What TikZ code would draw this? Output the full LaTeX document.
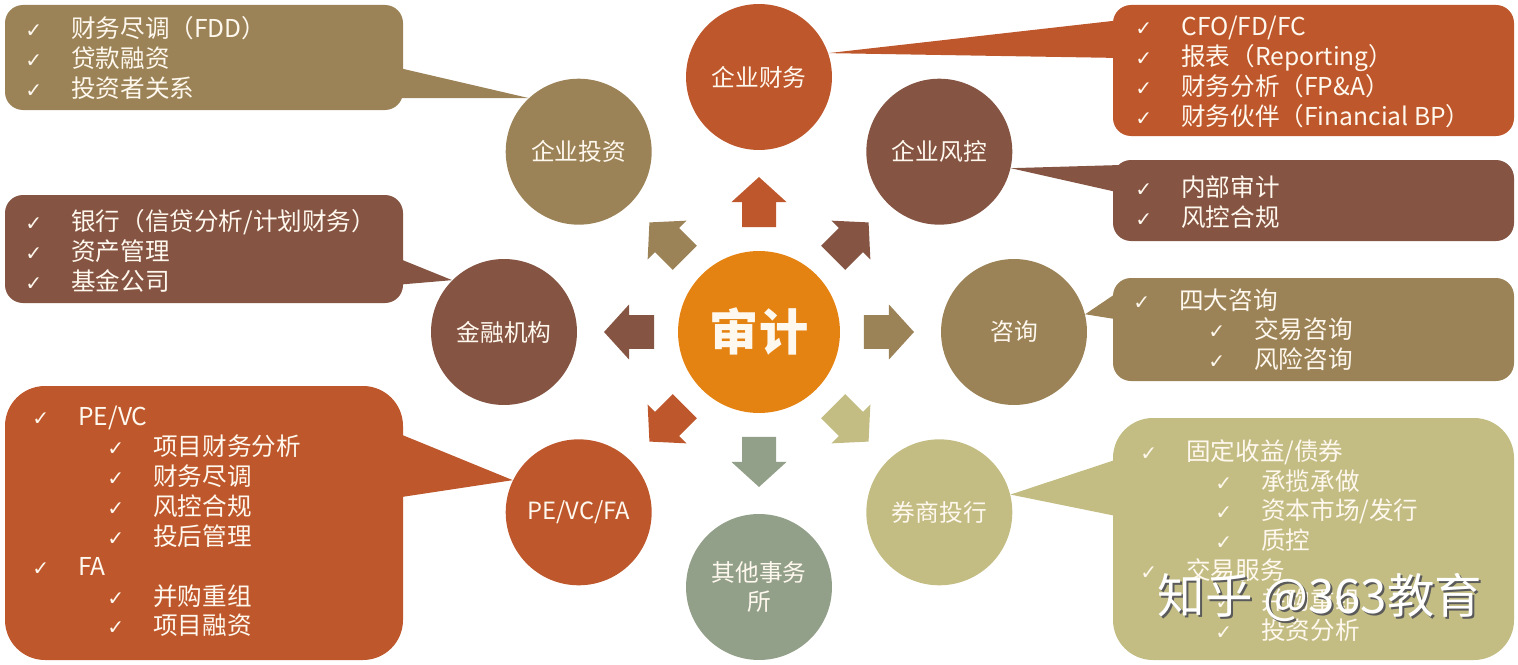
\documentclass[tikz,border=0pt]{standalone}
\usepackage{fontspec}
\setmainfont{Noto Sans CJK SC}
\newfontfamily\symfont{DejaVu Sans}
\usetikzlibrary{calc}
\definecolor{cOrange}{RGB}{229,131,18}
\definecolor{cRust}{RGB}{190,88,44}
\definecolor{cBrown}{RGB}{133,84,66}
\definecolor{cTan}{RGB}{156,131,87}
\definecolor{cKhaki}{RGB}{195,189,132}
\definecolor{cSage}{RGB}{147,160,137}
\definecolor{cText}{RGB}{255,248,238}
\definecolor{cShade}{RGB}{90,90,90}
\tikzset{
  hub/.style={circle, fill=cOrange, minimum size=3.24cm, inner sep=0pt,
    text=cText, font=\fontsize{28}{30}\selectfont\bfseries},
  sat/.style={circle, minimum size=2.92cm, inner sep=0pt, text=cText,
    align=center, font=\fontsize{13.5}{17}\selectfont},
  smallbox/.style={rounded corners=0.36cm},
  bigbox/.style={rounded corners=0.8cm},
  itemtxt/.style={anchor=north west, inner sep=0pt, text=cText, align=left,
    font=\fontsize{14}{17}\selectfont},
  wmark/.style={inner sep=0pt, font=\fontsize{27}{30}\selectfont},
}
\newcommand{\chk}{\makebox[0.92cm][l]{\symfont\bfseries\fontsize{11.5}{11.5}\selectfont ✓}}
\newcommand{\subchk}{\hspace*{1.5cm}\chk}
\newcommand{\blkarrow}[2]{%
  \fill[#2, shift={(aud)}, rotate=#1] (2.1cm,-0.34cm) -- (2.6cm,-0.34cm)
    -- (2.6cm,-0.55cm) -- (3.1cm,0cm) -- (2.6cm,0.55cm) -- (2.6cm,0.34cm)
    -- (2.1cm,0.34cm) -- cycle;
}
\begin{document}
\begin{tikzpicture}[x=0.02cm, y=0.02cm]
  \useasboundingbox (0,0) rectangle (1518,664);
  % --- hub and the eight satellites ---
  \node[hub] (aud) at (759,332) {审计};
  \node[sat, fill=cRust]  (fin)   at ($(aud)+(90:255)$)   {企业财务};
  \node[sat, fill=cBrown] (risk)  at ($(aud)+(45:255)$)   {企业风控};
  \node[sat, fill=cTan]   (cons)  at ($(aud)+(0:255)$)    {咨询};
  \node[sat, fill=cKhaki] (ib)    at ($(aud)+(-45:255)$)  {券商投行};
  \node[sat, fill=cSage]  (other) at ($(aud)+(-90:255)$)  {其他事务\\所};
  \node[sat, fill=cRust]  (pe)    at ($(aud)+(-135:255)$) {PE/VC/FA};
  \node[sat, fill=cBrown] (bank)  at ($(aud)+(180:255)$)  {金融机构};
  \node[sat, fill=cTan]   (inv)   at ($(aud)+(135:255)$)  {企业投资};
  % block arrows
  \blkarrow{90}{cRust}
  \blkarrow{45}{cBrown}
  \blkarrow{0}{cTan}
  \blkarrow{-45}{cKhaki}
  \blkarrow{-90}{cSage}
  \blkarrow{-135}{cRust}
  \blkarrow{180}{cBrown}
  \blkarrow{135}{cTan}
  % --- callouts, left side ---
  \fill[smallbox, cTan] (5,554) rectangle (403,659);
  \fill[cTan] (395,597) -- (inv.133) -- (395,566) -- cycle;
  \node[itemtxt] (invtxt) at (25,648)
    {\chk 财务尽调（FDD）\\ \chk 贷款融资\\ \chk 投资者关系};
  \fill[smallbox, cBrown] (5,361) rectangle (403,469);
  \fill[cBrown] (395,407) -- (bank.135) -- (395,379) -- cycle;
  \node[itemtxt] (banktxt) at (25,455)
    {\chk 银行（信贷分析/计划财务）\\ \chk 资产管理\\ \chk 基金公司};
  \fill[bigbox, cRust] (5,4) rectangle (403,278);
  \fill[cRust] (395,232) -- (pe.154) -- (395,166) -- cycle;
  \node[itemtxt] (petxt) at (32,258)
    {\chk PE/VC\\ \subchk 项目财务分析\\ \subchk 财务尽调\\ \subchk 风控合规\\
     \subchk 投后管理\\ \chk FA\\ \subchk 并购重组\\ \subchk 项目融资};
  % --- callouts, right side ---
  \fill[smallbox, cRust] (1113,528) rectangle (1514,659);
  \fill[cRust] (1121,644) -- (fin.19) -- (1121,606) -- cycle;
  \node[itemtxt] (fintxt) at (1135,648)
    {\chk CFO/FD/FC\\ \chk 报表（Reporting）\\ \chk 财务分析（FP\&A）\\
     \chk 财务伙伴（Financial BP）};
  \fill[smallbox, cBrown] (1113,423) rectangle (1514,504);
  \fill[cBrown] (1121,499) -- (risk.-13) -- (1121,471) -- cycle;
  \node[itemtxt] (risktxt) at (1135,489) {\chk 内部审计\\ \chk 风控合规};
  \fill[smallbox, cTan] (1113,283) rectangle (1514,386);
  \fill[cTan] (1121,374) -- (cons.14) -- (1121,344) -- cycle;
  \node[itemtxt] (constxt) at (1133,376)
    {\chk 四大咨询\\ \subchk 交易咨询\\ \subchk 风险咨询};
  \fill[bigbox, cKhaki] (1113,4) rectangle (1514,246);
  \fill[cKhaki] (1121,206) -- (ib.14) -- (1121,147) -- cycle;
  \node[itemtxt] (ibtxt) at (1140,225)
    {\chk 固定收益/债券\\ \subchk 承揽承做\\ \subchk 资本市场/发行\\ \subchk 质控\\
     \chk 交易服务\\ \subchk 并购重组\\ \subchk 投资分析};
  % watermark
  \node[wmark, text=cShade] (wmshade) at (1322,64) {知乎 @363教育};
  \node[wmark, text=white] (wm) at (1320,66) {知乎 @363教育};
\end{tikzpicture}
\end{document}
